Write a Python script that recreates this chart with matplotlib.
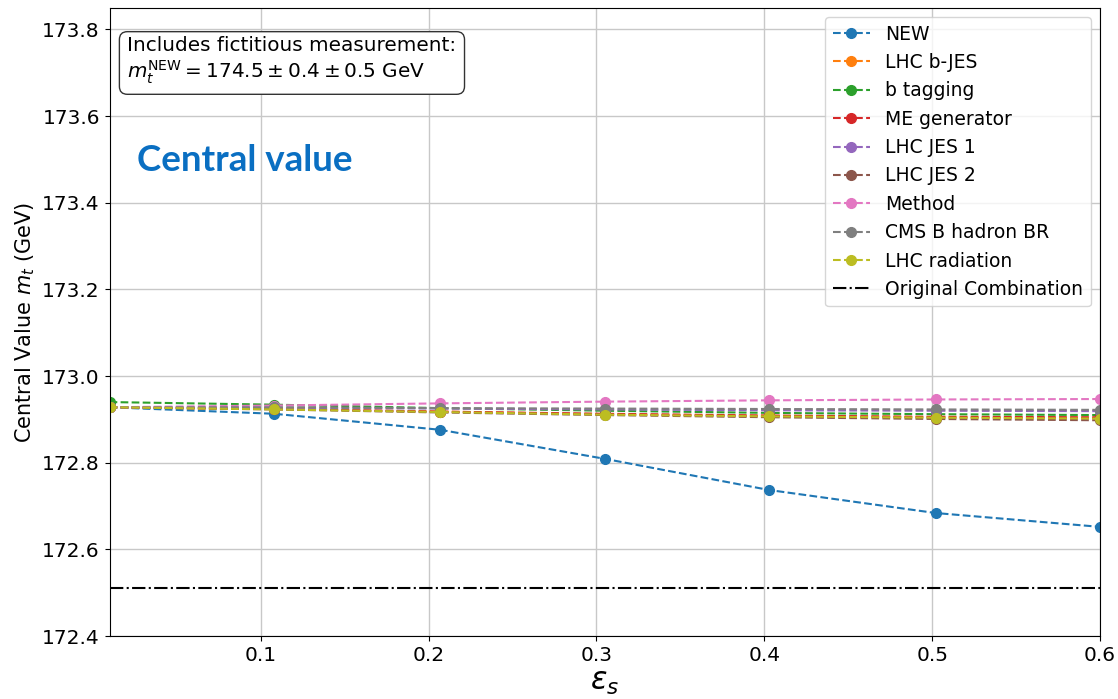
import matplotlib
matplotlib.use('Agg')
import matplotlib.pyplot as plt

# signal strength scan points
eps_s = [0.01, 0.108, 0.207, 0.305, 0.403, 0.502, 0.6]

# central value of the combination vs eps_s, one curve per correlated source
m_new = [172.928, 172.913, 172.876, 172.809, 172.737, 172.684, 172.652]
m_lhc_bjes = [172.928, 172.924, 172.918, 172.912, 172.908, 172.905, 172.903]
m_btag = [172.940, 172.934, 172.926, 172.920, 172.915, 172.912, 172.910]
m_me_gen = [172.928, 172.924, 172.918, 172.913, 172.909, 172.906, 172.905]
m_lhc_jes1 = [172.928, 172.927, 172.925, 172.923, 172.921, 172.920, 172.919]
m_lhc_jes2 = [172.928, 172.923, 172.916, 172.910, 172.905, 172.901, 172.898]
m_method = [172.928, 172.932, 172.937, 172.941, 172.944, 172.946, 172.947]
m_cms_bhad = [172.928, 172.928, 172.926, 172.925, 172.924, 172.923, 172.922]
m_lhc_rad = [172.928, 172.923, 172.917, 172.911, 172.907, 172.904, 172.902]

labels = ['NEW', 'LHC b-JES', 'b tagging', 'ME generator', 'LHC JES 1',
          'LHC JES 2', 'Method', 'CMS B hadron BR', 'LHC radiation']
series = [m_new, m_lhc_bjes, m_btag, m_me_gen, m_lhc_jes1, m_lhc_jes2,
          m_method, m_cms_bhad, m_lhc_rad]

m_original = 172.51

fig = plt.figure(figsize=(11.18, 6.99), dpi=100)
ax = fig.add_axes([0.098, 0.09, 0.886, 0.899])

for vals, lab in zip(series, labels):
    ax.plot(eps_s, vals, '--o', markersize=7, linewidth=1.5, label=lab)

ax.axhline(m_original, color='black', linestyle='-.', linewidth=1.5,
           label='Original Combination')

ax.set_xlim(0.01, 0.6)
ax.set_ylim(172.4, 173.85)
ax.set_xticks([0.1, 0.2, 0.3, 0.4, 0.5, 0.6])
ax.set_yticks([172.4, 172.6, 172.8, 173.0, 173.2, 173.4, 173.6, 173.8])
ax.tick_params(labelsize=14.5)
ax.grid(True, color='#c8c8c8', linewidth=1)

ax.set_xlabel(r'$\epsilon_s$', fontsize=22, labelpad=2)
ax.set_ylabel(r'Central Value $m_t$ (GeV)', fontsize=15)

ax.legend(loc='upper right', fontsize=13.5, framealpha=0.8)

ax.text(0.018, 0.955,
        'Includes fictitious measurement:\n'
        r'$m_t^{\mathrm{NEW}} = 174.5 \pm 0.4 \pm 0.5$ GeV',
        transform=ax.transAxes, fontsize=14.4, va='top', ha='left',
        bbox=dict(boxstyle='round,pad=0.4', facecolor='white',
                  edgecolor='#333333'))

ax.text(0.028, 0.757, 'Central value', transform=ax.transAxes,
        fontsize=26.5, fontweight='bold', color='#0A6FC2',
        family=['Lato', 'DejaVu Sans'], va='center', ha='left')

fig.savefig('out.png', dpi=100)
